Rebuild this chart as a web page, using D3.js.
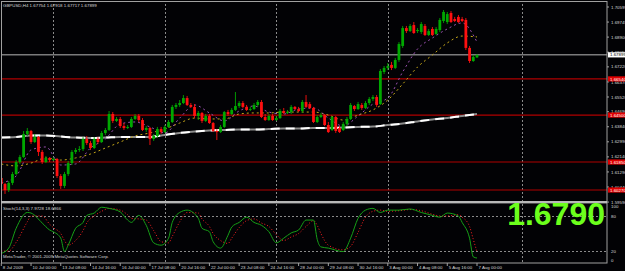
<!DOCTYPE html>
<html>
<head>
<meta charset="utf-8">
<script src="https://cdn.jsdelivr.net/npm/d3@7"></script>
<style>
body { margin: 0; background: #000; }
svg { display: block; }
text { font-family: "Liberation Sans", Arial, sans-serif; }
</style>
</head>
<body>
<svg id="chart"></svg>
<script>
// svg size
const width = 625;
const height = 271;

// ---- data ----
const symbolTitle = "GBPUSD,H4  1.67754 1.67918 1.67717 1.67899";
const stochTitle = "Stoch(14,3,3) 7.9728 18.6866";
const copyright = "MetaTrader, \u00a9 2001-2009 MetaQuotes Software Corp.";
const bigPrice = "1.6790";

// time labels, one every 8 bars
const timeLabels = ["8 Jul 2009", "10 Jul 00:00", "13 Jul 08:00", "14 Jul 16:00", "16 Jul 00:00",
    "17 Jul 08:00", "20 Jul 16:00", "22 Jul 00:00", "23 Jul 08:00", "24 Jul 16:00", "28 Jul 00:00",
    "29 Jul 08:00", "30 Jul 16:00", "3 Aug 00:00", "4 Aug 08:00", "5 Aug 16:00", "7 Aug 00:00"];

// price axis labels
const priceTicks = ["1.70599", "1.69749", "1.68900", "1.68050", "1.67220", "1.66370", "1.65520",
    "1.64690", "1.63840", "1.62990", "1.62140", "1.61290", "1.60440", "1.59590"];

// horizontal red levels
const levelValues = [1.6654, 1.6450, 1.6185, 1.6027];
const levelLabels = ["1.66540", "1.64500", "1.61850", "1.60270"];
const bidValue = 1.67899;
const bidLabel = "1.67899";

// vertical grid, as bar numbers
const gridBars = [14, 44, 74, 104, 140];

// H4 candles
const opens = [1.6095, 1.6061, 1.6027, 1.6067, 1.6117, 1.6185, 1.6213, 1.6343, 1.6360, 1.6298,
    1.6326, 1.6242, 1.6185, 1.6208, 1.6196, 1.6202, 1.6106, 1.6050, 1.6117, 1.6179,
    1.6242, 1.6253, 1.6258, 1.6315, 1.6292, 1.6264, 1.6315, 1.6298, 1.6349, 1.6366,
    1.6456, 1.6417, 1.6428, 1.6388, 1.6377, 1.6383, 1.6428, 1.6445, 1.6422, 1.6366,
    1.6377, 1.6315, 1.6332, 1.6371, 1.6354, 1.6383, 1.6411, 1.6496, 1.6507, 1.6518,
    1.6546, 1.6507, 1.6496, 1.6445, 1.6462, 1.6417, 1.6445, 1.6405, 1.6360, 1.6354,
    1.6383, 1.6467, 1.6456, 1.6479, 1.6501, 1.6518, 1.6496, 1.6479, 1.6484, 1.6507,
    1.6524, 1.6439, 1.6422, 1.6445, 1.6422, 1.6433, 1.6473, 1.6462, 1.6467, 1.6496,
    1.6484, 1.6473, 1.6524, 1.6512, 1.6490, 1.6411, 1.6439, 1.6450, 1.6394, 1.6366,
    1.6439, 1.6377, 1.6366, 1.6400, 1.6428, 1.6501, 1.6484, 1.6507, 1.6490, 1.6518,
    1.6541, 1.6552, 1.6512, 1.6693, 1.6716, 1.6733, 1.6716, 1.6761, 1.6840, 1.6941,
    1.6924, 1.6958, 1.6924, 1.6919, 1.6953, 1.6902, 1.6936, 1.6908, 1.6930, 1.6981,
    1.6975, 1.7026, 1.6992, 1.7004, 1.6992, 1.6987, 1.6829, 1.6755, 1.67754];
const highs = [1.6106, 1.6067, 1.6078, 1.6129, 1.6196, 1.6225, 1.6360, 1.6377, 1.6366, 1.6343,
    1.6332, 1.6253, 1.6219, 1.6213, 1.6213, 1.6208, 1.6117, 1.6129, 1.6191, 1.6253,
    1.6264, 1.6275, 1.6326, 1.6332, 1.6304, 1.6326, 1.6326, 1.6360, 1.6377, 1.6473,
    1.6467, 1.6439, 1.6439, 1.6405, 1.6394, 1.6439, 1.6456, 1.6456, 1.6433, 1.6388,
    1.6383, 1.6343, 1.6383, 1.6383, 1.6394, 1.6422, 1.6507, 1.6518, 1.6535, 1.6563,
    1.6558, 1.6518, 1.6512, 1.6473, 1.6467, 1.6456, 1.6456, 1.6411, 1.6371, 1.6394,
    1.6473, 1.6479, 1.6490, 1.6580, 1.6529, 1.6529, 1.6507, 1.6496, 1.6518, 1.6535,
    1.6535, 1.6456, 1.6456, 1.6456, 1.6445, 1.6484, 1.6490, 1.6479, 1.6507, 1.6501,
    1.6496, 1.6535, 1.6563, 1.6524, 1.6496, 1.6450, 1.6462, 1.6456, 1.6411, 1.6445,
    1.6445, 1.6388, 1.6411, 1.6439, 1.6518, 1.6507, 1.6524, 1.6518, 1.6529, 1.6552,
    1.6563, 1.6563, 1.6710, 1.6727, 1.6744, 1.6750, 1.6772, 1.6862, 1.6953, 1.6953,
    1.6964, 1.6975, 1.6941, 1.6975, 1.6964, 1.6936, 1.6947, 1.6947, 1.6998, 1.7043,
    1.7032, 1.7037, 1.7004, 1.7015, 1.7004, 1.6998, 1.6840, 1.6789, 1.67918];
const lows = [1.6050, 1.6005, 1.6016, 1.6055, 1.6112, 1.6174, 1.6208, 1.6332, 1.6287, 1.6292,
    1.6219, 1.6174, 1.6179, 1.6185, 1.6191, 1.6095, 1.6033, 1.6038, 1.6106, 1.6168,
    1.6230, 1.6242, 1.6247, 1.6281, 1.6253, 1.6258, 1.6287, 1.6292, 1.6338, 1.6360,
    1.6405, 1.6411, 1.6377, 1.6366, 1.6371, 1.6377, 1.6422, 1.6411, 1.6360, 1.6354,
    1.6281, 1.6304, 1.6321, 1.6343, 1.6349, 1.6377, 1.6405, 1.6484, 1.6496, 1.6512,
    1.6501, 1.6490, 1.6433, 1.6422, 1.6405, 1.6411, 1.6400, 1.6354, 1.6309, 1.6349,
    1.6377, 1.6445, 1.6450, 1.6473, 1.6490, 1.6490, 1.6473, 1.6473, 1.6479, 1.6496,
    1.6433, 1.6417, 1.6417, 1.6417, 1.6417, 1.6428, 1.6456, 1.6456, 1.6456, 1.6479,
    1.6467, 1.6462, 1.6490, 1.6484, 1.6405, 1.6405, 1.6433, 1.6388, 1.6349, 1.6360,
    1.6349, 1.6349, 1.6360, 1.6388, 1.6422, 1.6473, 1.6479, 1.6479, 1.6484, 1.6507,
    1.6529, 1.6496, 1.6507, 1.6682, 1.6704, 1.6704, 1.6710, 1.6750, 1.6829, 1.6913,
    1.6919, 1.6908, 1.6913, 1.6908, 1.6896, 1.6896, 1.6896, 1.6902, 1.6919, 1.6970,
    1.6964, 1.6970, 1.6975, 1.6970, 1.6975, 1.6817, 1.6744, 1.6750, 1.67717];
const closes = [1.6061, 1.6027, 1.6067, 1.6117, 1.6185, 1.6213, 1.6343, 1.6360, 1.6298, 1.6326,
    1.6242, 1.6185, 1.6208, 1.6196, 1.6202, 1.6106, 1.6050, 1.6117, 1.6179, 1.6242,
    1.6253, 1.6258, 1.6315, 1.6292, 1.6264, 1.6315, 1.6298, 1.6349, 1.6366, 1.6456,
    1.6417, 1.6428, 1.6388, 1.6377, 1.6383, 1.6428, 1.6445, 1.6422, 1.6366, 1.6377,
    1.6315, 1.6332, 1.6371, 1.6354, 1.6383, 1.6411, 1.6496, 1.6507, 1.6518, 1.6546,
    1.6507, 1.6496, 1.6445, 1.6462, 1.6417, 1.6445, 1.6405, 1.6360, 1.6354, 1.6383,
    1.6467, 1.6456, 1.6479, 1.6501, 1.6518, 1.6496, 1.6479, 1.6484, 1.6507, 1.6524,
    1.6439, 1.6422, 1.6445, 1.6422, 1.6433, 1.6473, 1.6462, 1.6467, 1.6496, 1.6484,
    1.6473, 1.6524, 1.6496, 1.6490, 1.6411, 1.6439, 1.6450, 1.6394, 1.6354, 1.6439,
    1.6360, 1.6354, 1.6400, 1.6428, 1.6507, 1.6484, 1.6512, 1.6490, 1.6518, 1.6541,
    1.6552, 1.6507, 1.6699, 1.6716, 1.6727, 1.6716, 1.6761, 1.6851, 1.6941, 1.6924,
    1.6953, 1.6913, 1.6930, 1.6964, 1.6902, 1.6924, 1.6902, 1.6936, 1.6987, 1.7032,
    1.7020, 1.6975, 1.6981, 1.6975, 1.6981, 1.6829, 1.6755, 1.6778, 1.67899];

// moving averages, read every 4th bar
const maBars = d3.range(0, 129, 4);
const maSlow = [1.6323, 1.6326, 1.6335, 1.6335, 1.6329, 1.6323, 1.6321, 1.6323, 1.6326, 1.6326,
    1.6326, 1.6338, 1.6349, 1.6357, 1.6363, 1.6366, 1.6369, 1.6369, 1.6371, 1.6374,
    1.6374, 1.6377, 1.6377, 1.6380, 1.6383, 1.6385, 1.6394, 1.6402, 1.6414, 1.6425,
    1.6433, 1.6445, 1.6456];
const maMid = [1.6174, 1.6163, 1.6179, 1.6208, 1.6196, 1.6208, 1.6230, 1.6264, 1.6298, 1.6332,
    1.6349, 1.6371, 1.6405, 1.6433, 1.6428, 1.6428, 1.6456, 1.6462, 1.6462, 1.6467,
    1.6467, 1.6467, 1.6450, 1.6422, 1.6450, 1.6479, 1.6535, 1.6625, 1.6721, 1.6789,
    1.6857, 1.6896, 1.6891];
const maFast = [1.6067, 1.6106, 1.6253, 1.6270, 1.6168, 1.6174, 1.6264, 1.6315, 1.6400, 1.6411,
    1.6383, 1.6349, 1.6433, 1.6507, 1.6462, 1.6417, 1.6473, 1.6501, 1.6467, 1.6456,
    1.6484, 1.6490, 1.6433, 1.6388, 1.6445, 1.6512, 1.6546, 1.6693, 1.6823, 1.6885,
    1.6936, 1.6970, 1.6862];

// stochastic, read at these bars
const stochBars = [0, 2, 4, 7, 8, 11, 13, 14, 16, 17, 18, 20, 22, 23, 25, 27, 29, 32, 34, 35,
    37, 39, 41, 43, 45, 46, 48, 50, 53, 54, 56, 57, 59, 61, 62, 64, 66, 68, 70, 72,
    74, 76, 78, 80, 82, 84, 85, 86, 88, 92, 94, 96, 98, 100, 102, 104, 107, 110, 113, 116,
    118, 120, 123, 124, 126, 127, 128];
const stochMain = [16, 25, 59, 86, 85, 68, 56, 53, 42, 19, 30, 59, 69, 81, 85, 95, 93, 87, 73, 69,
    81, 64, 34, 30, 42, 69, 86, 90, 76, 59, 53, 36, 25, 47, 61, 69, 78, 69, 64, 53,
    34, 42, 51, 56, 73, 73, 40, 27, 25, 19, 42, 76, 90, 93, 86, 90, 90, 92, 86, 81,
    78, 85, 80, 69, 42, 10, 7.97];
const stochSignal = [20, 20, 35, 70, 80, 80, 66, 60, 50, 38, 30, 38, 55, 68, 80, 88, 93, 90, 82, 76,
    75, 73, 55, 36, 34, 45, 70, 86, 85, 75, 62, 50, 38, 33, 42, 60, 72, 75, 68, 62,
    48, 38, 44, 50, 62, 72, 64, 50, 30, 22, 28, 52, 78, 88, 90, 88, 89, 91, 89, 83,
    80, 80, 82, 78, 62, 40, 18.69];
const stochLevels = [80, 20];
const stochTicks = [100, 80, 20, 0];

// ---- layout ----
const plotRight = 607;
const mainTop = 1, mainBottom = 201;
const subTop = 203, subBottom = 263;

const upColor = "#00a800";
const downColor = "#ff1010";
const gridColor = "#8a8a8a";
const frameColor = "#a0a0a0";
const textColor = "#d8d8d8";

const svg = d3.select("#chart")
    .attr("width", width)
    .attr("height", height);

svg.append("rect")
    .attr("width", width).attr("height", height)
    .attr("fill", "#020205");

// scales
const x = d3.scaleLinear().domain([0, 128]).range([1.3, 477]);
const y = d3.scaleLinear().domain([1.60440, 1.70599]).range([187, 7]);
const ys = d3.scaleLinear().domain([0, 100]).range([262.7, 204.3]);

// clip paths
const defs = svg.append("defs");
defs.append("clipPath").attr("id", "clipMain")
    .append("rect").attr("x", 1).attr("y", mainTop).attr("width", plotRight - 1).attr("height", mainBottom - mainTop);
defs.append("clipPath").attr("id", "clipSub")
    .append("rect").attr("x", 1).attr("y", subTop).attr("width", plotRight - 1).attr("height", subBottom - subTop);

const main = svg.append("g").attr("clip-path", "url(#clipMain)");
const sub = svg.append("g").attr("clip-path", "url(#clipSub)");

// vertical grid
[main, sub].forEach(g => {
    g.selectAll("line.vgrid")
        .data(gridBars)
        .join("line")
        .attr("class", "vgrid")
        .attr("x1", d => Math.round(x(d)) + 0.5)
        .attr("x2", d => Math.round(x(d)) + 0.5)
        .attr("y1", 0).attr("y2", height)
        .attr("stroke", gridColor)
        .attr("stroke-width", 1)
        .attr("stroke-dasharray", "2,2");
});

// red levels
main.selectAll("line.level")
    .data(levelValues)
    .join("line")
    .attr("class", "level")
    .attr("x1", 0).attr("x2", plotRight)
    .attr("y1", d => y(d)).attr("y2", d => y(d))
    .attr("stroke", "#b00000")
    .attr("stroke-width", 1.2);

// bid line
main.append("line")
    .attr("x1", 0).attr("x2", plotRight)
    .attr("y1", y(bidValue)).attr("y2", y(bidValue))
    .attr("stroke", "#b8b8b8")
    .attr("stroke-width", 1);

// slow MA (white, thick)
const maLine = d3.line()
    .x((d, k) => x(maBars[k]))
    .y(d => y(d))
    .curve(d3.curveMonotoneX);

main.append("path")
    .attr("d", maLine(maSlow))
    .attr("fill", "none")
    .attr("stroke", "#8c8c8c")
    .attr("stroke-width", 2);
main.append("path")
    .attr("d", maLine(maSlow))
    .attr("fill", "none")
    .attr("stroke", "#ffffff")
    .attr("stroke-width", 2)
    .attr("stroke-dasharray", "9,6");

// dashed MAs
main.append("path")
    .attr("d", maLine(maMid))
    .attr("fill", "none")
    .attr("stroke", "#c8a818")
    .attr("stroke-width", 1)
    .attr("stroke-dasharray", "2,3");
main.append("path")
    .attr("d", maLine(maFast))
    .attr("fill", "none")
    .attr("stroke", "#9a50b0")
    .attr("stroke-width", 1)
    .attr("stroke-dasharray", "2,3");

// candles
const bars = opens.map((o, i) => ({ i, o, h: highs[i], l: lows[i], c: closes[i] }));

main.selectAll("line.wick")
    .data(bars)
    .join("line")
    .attr("class", "wick")
    .attr("x1", d => x(d.i)).attr("x2", d => x(d.i))
    .attr("y1", d => y(d.h)).attr("y2", d => y(d.l))
    .attr("stroke", d => d.c >= d.o ? upColor : downColor)
    .attr("stroke-width", 0.9);

main.selectAll("rect.body")
    .data(bars)
    .join("rect")
    .attr("class", "body")
    .attr("x", d => x(d.i) - 1.4)
    .attr("width", 2.8)
    .attr("y", d => y(Math.max(d.o, d.c)))
    .attr("height", d => Math.max(0.8, Math.abs(y(d.o) - y(d.c))))
    .attr("fill", d => d.c >= d.o ? upColor : downColor);

// stochastic levels
sub.selectAll("line.slevel")
    .data(stochLevels)
    .join("line")
    .attr("class", "slevel")
    .attr("x1", 0).attr("x2", plotRight)
    .attr("y1", d => Math.round(ys(d)) + 0.5).attr("y2", d => Math.round(ys(d)) + 0.5)
    .attr("stroke", gridColor)
    .attr("stroke-dasharray", "2,2");

const stochLine = d3.line()
    .x((d, k) => x(stochBars[k]))
    .y(d => ys(d))
    .curve(d3.curveMonotoneX);

sub.append("path")
    .attr("d", stochLine(stochSignal))
    .attr("fill", "none")
    .attr("stroke", "#ff2020")
    .attr("stroke-width", 1)
    .attr("stroke-dasharray", "1,2");
sub.append("path")
    .attr("d", stochLine(stochMain))
    .attr("fill", "none")
    .attr("stroke", "#16a016")
    .attr("stroke-width", 1);

// frames
svg.append("rect")
    .attr("x", 1.5).attr("y", 1.5)
    .attr("width", plotRight - 1.5).attr("height", subBottom - 1.5)
    .attr("fill", "none")
    .attr("stroke", frameColor);
svg.append("rect")
    .attr("x", 1).attr("y", mainBottom)
    .attr("width", plotRight - 1).attr("height", 2.4)
    .attr("fill", "#b8b8b8");

// texts
svg.append("text")
    .attr("x", 3).attr("y", 7)
    .attr("font-size", 4.4)
    .attr("fill", textColor)
    .text(symbolTitle);

svg.append("text")
    .attr("x", 3).attr("y", 210)
    .attr("font-size", 4.4)
    .attr("fill", textColor)
    .text(stochTitle);

svg.append("text")
    .attr("x", 3).attr("y", 258)
    .attr("font-size", 4.4)
    .attr("fill", textColor)
    .text(copyright);

svg.append("text")
    .attr("x", 605).attr("y", 225)
    .attr("text-anchor", "end")
    .attr("font-size", 32)
    .attr("font-weight", "bold")
    .attr("fill", "#6cff1c")
    .text(bigPrice);

// price axis
const axisG = svg.append("g");
axisG.selectAll("text.ptick")
    .data(priceTicks)
    .join("text")
    .attr("class", "ptick")
    .attr("x", 611)
    .attr("y", d => y(+d) + 1.6)
    .attr("font-size", 4.4)
    .attr("fill", textColor)
    .text(d => d);
axisG.selectAll("line.ptickmark")
    .data(priceTicks)
    .join("line")
    .attr("class", "ptickmark")
    .attr("x1", plotRight).attr("x2", plotRight + 2)
    .attr("y1", d => y(+d)).attr("y2", d => y(+d))
    .attr("stroke", frameColor);

// level labels
axisG.selectAll("rect.lvlbox")
    .data(levelValues)
    .join("rect")
    .attr("class", "lvlbox")
    .attr("x", 608).attr("width", 17)
    .attr("y", d => y(d) - 2.6).attr("height", 5.2)
    .attr("fill", "#e00000");
axisG.selectAll("text.lvltext")
    .data(levelLabels)
    .join("text")
    .attr("class", "lvltext")
    .attr("x", 610)
    .attr("y", (d, k) => y(levelValues[k]) + 1.6)
    .attr("font-size", 4.4)
    .attr("fill", "#ffffff")
    .text(d => d);

axisG.append("rect")
    .attr("x", 608).attr("width", 17)
    .attr("y", y(bidValue) - 2.6).attr("height", 5.2)
    .attr("fill", "#ffffff");
axisG.append("text")
    .attr("x", 610)
    .attr("y", y(bidValue) + 1.6)
    .attr("font-size", 4.4)
    .attr("fill", "#000000")
    .text(bidLabel);

// stochastic axis
axisG.selectAll("text.stick")
    .data(stochTicks)
    .join("text")
    .attr("class", "stick")
    .attr("x", 611)
    .attr("y", d => ys(d) + 1.6 + (d === 100 ? 2 : 0) - (d === 0 ? 2 : 0))
    .attr("font-size", 4.4)
    .attr("fill", textColor)
    .text(d => d);

// time axis
const timeG = svg.append("g");
timeG.selectAll("line.tt")
    .data(timeLabels)
    .join("line")
    .attr("class", "tt")
    .attr("x1", (d, k) => x(k * 8)).attr("x2", (d, k) => x(k * 8))
    .attr("y1", subBottom).attr("y2", subBottom + 3)
    .attr("stroke", frameColor);
timeG.selectAll("text.tl")
    .data(timeLabels)
    .join("text")
    .attr("class", "tl")
    .attr("x", (d, k) => x(k * 8) + 1.5)
    .attr("y", 269)
    .attr("font-size", 4.4)
    .attr("fill", textColor)
    .text(d => d);
</script>
</body>
</html>
